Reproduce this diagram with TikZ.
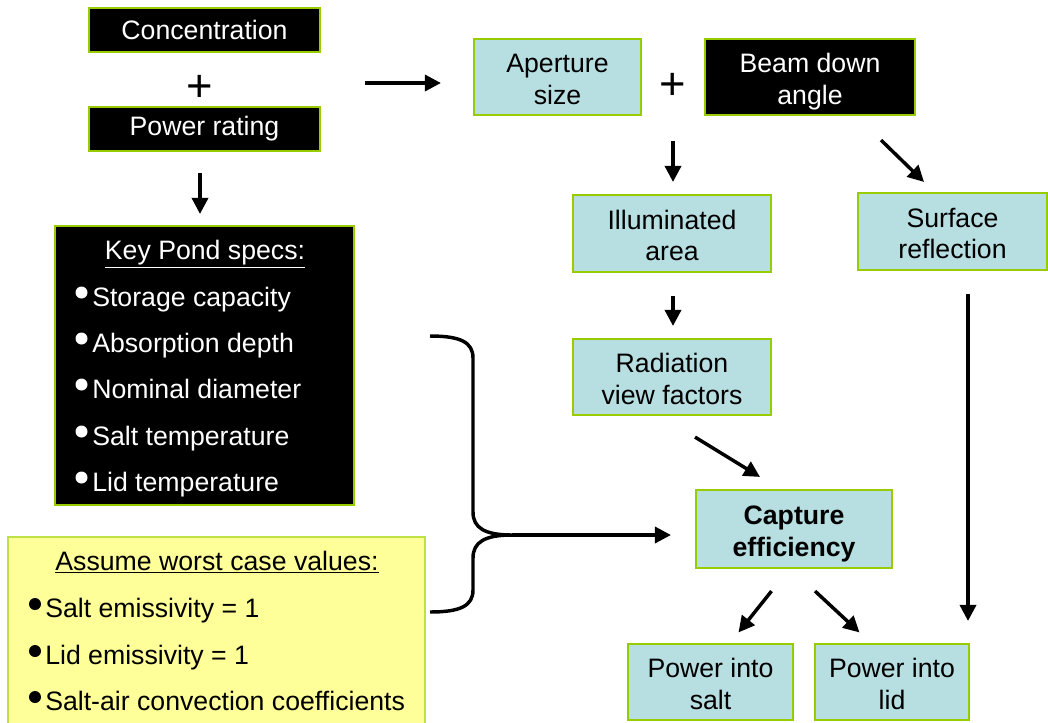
\documentclass[tikz,border=0pt]{standalone}
\usepackage{fontspec}
\setmainfont{Liberation Sans}
\usetikzlibrary{arrows.meta}
\definecolor{boxblue}{RGB}{183,222,225}
\definecolor{boxgreen}{RGB}{153,204,0}
\definecolor{boxyellow}{RGB}{255,255,153}
\definecolor{yborder}{RGB}{190,225,70}
\newcommand{\topstrut}{\rule{0pt}{21.5pt}}
\newcommand{\botstrut}{\rule[-4.5pt]{0pt}{0pt}}
\begin{document}
\begin{tikzpicture}[x=0.75pt,y=-0.75pt,
  txt/.style={font=\fontsize{20}{23.5}\selectfont, inner sep=0pt},
  bluebox/.style={txt, draw=boxgreen, line width=1.6pt, fill=boxblue, align=center},
  blackbox/.style={txt, draw=boxgreen, line width=1.6pt, fill=black, text=white, align=center},
  arr/.style={line width=2.6pt, -{Triangle[width=12pt,length=12pt]}},
  plussign/.style={font=\fontsize{34}{34}\selectfont, inner sep=0pt},
  wline/.style={txt, text=white, anchor=base west},
  kline/.style={txt, anchor=base west}
]
\useasboundingbox (0,0) rectangle (1048,722);

% left column
\node[blackbox, minimum width=173.25pt, minimum height=33pt] (conc) at (204.5,30) {Concentration};
\node[plussign] (plus1) at (199.5,88) {+};
\node[blackbox, minimum width=173.25pt, minimum height=33pt] (power) at (204.5,129) {Power rating};

\node[blackbox, minimum width=224.25pt, minimum height=209.25pt] (kp) at (204.5,365.5) {};
\node[txt, text=white, anchor=base] (kpt) at (205,259.5) {\underline{Key Pond specs:}};
\node[wline] (kp1) at (92,306) {Storage capacity};
\node[wline] (kp2) at (92,352) {Absorption depth};
\node[wline] (kp3) at (92,398) {Nominal diameter};
\node[wline] (kp4) at (92,445) {Salt temperature};
\node[wline] (kp5) at (92,491) {Lid temperature};
\foreach \yy in {292.5,338.5,384.5,431.5,477.5}
  \fill[white] (81.5,\yy) circle[radius=6];

\node[txt, draw=yborder, fill=boxyellow, line width=1.6pt, minimum width=312.75pt, minimum height=141.75pt] (ws) at (216.5,631.5) {};
\node[txt, anchor=base] (wst) at (217,570) {\underline{Assume worst case values:}};
\node[kline] (ws1) at (45,617) {Salt emissivity = 1};
\node[kline] (ws2) at (45,664) {Lid emissivity = 1};
\node[kline] (ws3) at (45,710) {Salt-air convection coefficients};
\foreach \yy in {604,651,697}
  \fill[black] (35,\yy) circle[radius=6];

% right part
\node[bluebox, minimum width=125.25pt, minimum height=57pt] (ap) at (557.5,77) {\topstrut Aperture\\size\botstrut};
\node[plussign] (plus2) at (672.5,86.5) {+};
\node[blackbox, minimum width=157.5pt, minimum height=57pt] (beam) at (810,77) {\topstrut Beam down\\angle\botstrut};
\node[bluebox, minimum width=148.5pt, minimum height=57.75pt] (ill) at (672,233.5) {\topstrut Illuminated\\area\botstrut};
\node[bluebox, minimum width=141.75pt, minimum height=57.75pt] (surf) at (952.5,231.5) {\topstrut Surface\\reflection\botstrut};
\node[bluebox, minimum width=148.5pt, minimum height=57pt] (rad) at (672,377) {\topstrut Radiation\\view factors\botstrut};
\node[bluebox, minimum width=147pt, minimum height=58.5pt, font=\fontsize{20}{23.5}\selectfont\bfseries] (cap) at (794,529) {\topstrut Capture\\efficiency\botstrut};
\node[bluebox, minimum width=123.75pt, minimum height=57pt] (salt) at (710.5,682) {\topstrut Power into\\salt\botstrut};
\node[bluebox, minimum width=115.5pt, minimum height=57pt] (lid) at (892,682) {\topstrut Power into\\lid\botstrut};

% arrows
\draw[arr] ([shift={(-4.5,21)}]power.south) -- ([shift={(-4.5,-11)}]kp.north);
\draw[arr] ([shift={(165.5,-5)}]plus1.center) -- ([shift={(-32,6)}]ap.west);
\draw[arr] ([shift={(0.5,54)}]plus2.center) -- ([shift={(1,-12)}]ill.north);
\draw[arr] ([shift={(71,24)}]beam.south) -- ([shift={(-28.5,-10)}]surf.north);
\draw[arr] ([shift={(1,23)}]ill.south) -- ([shift={(1,-12)}]rad.north);
\draw[arr] ([shift={(23,21)}]rad.south) -- ([shift={(-34,-12)}]cap.north);
\draw[arr] ([shift={(15.5,23)}]surf.south) -- ([shift={(76,-22)}]lid.north);
\draw[arr] ([shift={(-22.5,22)}]cap.south) -- ([shift={(28,-10.5)}]salt.north);
\draw[arr] ([shift={(21,22)}]cap.south) -- ([shift={(-32.5,-10.5)}]lid.north);

% brace
\coordinate (btip) at (512,535);
\draw[line width=2.6pt] (430,336) .. controls (460,336) and (473,342) .. (473,358) -- (473,512)
  .. controls (473,528) and (485,535) .. (btip)
  .. controls (485,535) and (473,542) .. (473,558) -- (473,590)
  .. controls (473,606) and (460,612) .. (430,612);
\draw[arr] (btip) -- ([shift={(-24,6)}]cap.west);
\end{tikzpicture}
\end{document}
